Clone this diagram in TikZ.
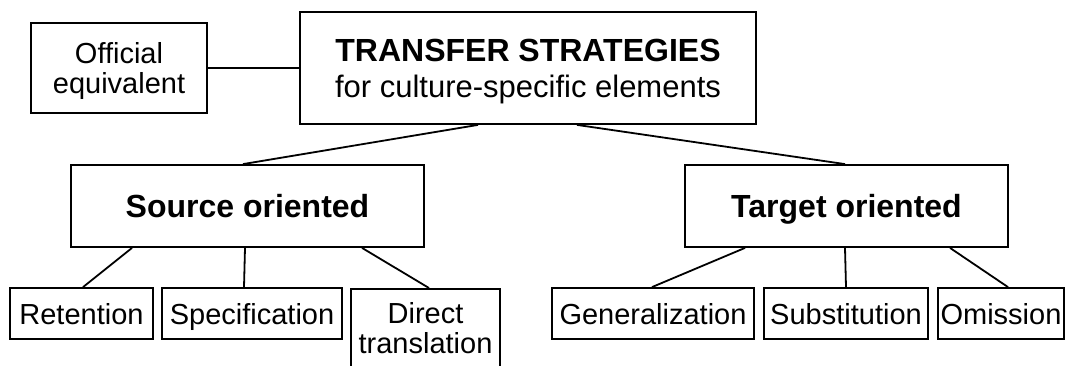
\documentclass[tikz,border=0pt]{standalone}
\usepackage{fontspec}
\setmainfont{Liberation Sans}
\tikzset{
  box/.style={draw, line width=1.8pt, inner sep=0pt, align=center,
    text depth=0pt, font=\fontsize{29}{30}\selectfont},
  leaf/.style={box, minimum height=51pt, text height=21pt},
  boldbox/.style={box, minimum height=82pt, text height=23pt,
    font=\fontsize{32}{32}\selectfont\bfseries},
  link/.style={line width=1.8pt}
}
\begin{document}
\begin{tikzpicture}[x=1pt, y=1pt]
  \useasboundingbox (0,0) rectangle (1065,365);
  \clip (0,0) rectangle (1065,365);

  % Top level
  \node[box, minimum width=456pt, minimum height=112pt,
    font=\fontsize{31}{36}\selectfont] (main) at (528,297)
    {{\fontsize{32}{36}\selectfont\bfseries TRANSFER STRATEGIES}\\
     for culture-specific elements};
  \node[box, minimum width=176pt, minimum height=90pt] (equiv) at (119,297)
    {Official\\equivalent};

  % Second level
  \node[boldbox, minimum width=353pt] (source) at (247.5,159) {Source oriented};
  \node[boldbox, minimum width=323pt] (target) at (846.5,159) {Target oriented};

  % Third level
  \node[leaf, minimum width=143pt] (retention) at (81.5,51.5) {Retention};
  \node[leaf, minimum width=180pt] (specification) at (252,51.5) {Specification};
  \node[box, minimum width=149pt, minimum height=78pt, anchor=north] (direct) at (425.5,77) {Direct\\translation};
  \node[leaf, minimum width=202pt] (general) at (653,51.5) {Generalization};
  \node[leaf, minimum width=164pt] (substitution) at (846,51.5) {Substitution};
  \node[leaf, minimum width=126pt] (omission) at (1001,51.5) {Omission};

  % Connectors
  \draw[link] (equiv.east) -- (main.west);
  \draw[link] ([xshift=-50pt]main.south) -- ([xshift=-4.5pt]source.north);
  \draw[link] ([xshift=49pt]main.south) -- ([xshift=-1.5pt]target.north);

  \draw[link] ([xshift=-115.5pt]source.south) -- ([xshift=1.5pt]retention.north);
  \draw[link] ([xshift=-2.5pt]source.south) -- ([xshift=-8pt]specification.north);
  \draw[link] ([xshift=114.5pt]source.south) -- ([xshift=3.5pt]direct.north);

  \draw[link] ([xshift=-101.5pt]target.south) -- ([xshift=-1pt]general.north);
  \draw[link] ([xshift=-1.5pt]target.south) -- (substitution.north);
  \draw[link] ([xshift=103.5pt]target.south) -- ([xshift=7pt]omission.north);
\end{tikzpicture}
\end{document}
